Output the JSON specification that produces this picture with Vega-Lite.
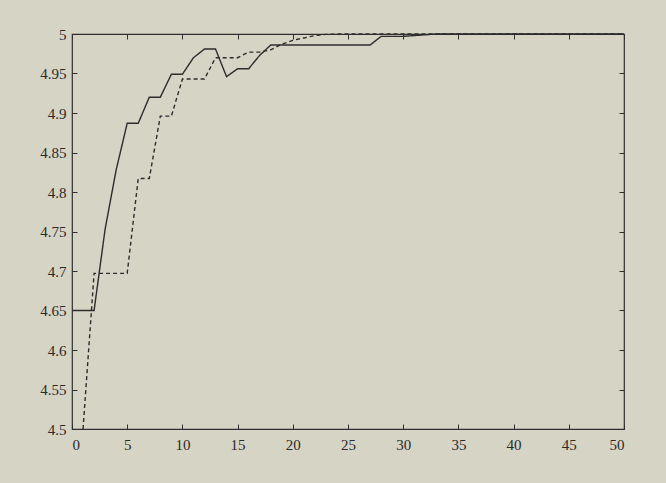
{
  "$schema": "https://vega.github.io/schema/vega-lite/v6.json",
  "width": 552,
  "height": 395,
  "autosize": "none",
  "padding": {"left": 72, "top": 34, "right": 42, "bottom": 54},
  "background": "#d6d4c5",
  "config": {
    "view": {"stroke": "#2e2e2e", "strokeWidth": 1.2},
    "axis": {
      "domain": false,
      "grid": false,
      "tickSize": -5,
      "tickColor": "#2e2e2e",
      "tickWidth": 1,
      "labelFont": "Liberation Serif",
      "labelFontSize": 15,
      "labelColor": "#2a2a2a",
      "labelPadding": 11,
      "format": "~g",
      "title": null
    }
  },
  "data": {
    "values": [
      {"x": 0, "y": 4.65, "s": "A"},
      {"x": 1, "y": 4.65, "s": "A"},
      {"x": 2, "y": 4.65, "s": "A"},
      {"x": 3, "y": 4.753, "s": "A"},
      {"x": 4, "y": 4.828, "s": "A"},
      {"x": 5, "y": 4.887, "s": "A"},
      {"x": 6, "y": 4.887, "s": "A"},
      {"x": 7, "y": 4.92, "s": "A"},
      {"x": 8, "y": 4.92, "s": "A"},
      {"x": 9, "y": 4.949, "s": "A"},
      {"x": 10, "y": 4.949, "s": "A"},
      {"x": 11, "y": 4.97, "s": "A"},
      {"x": 12, "y": 4.981, "s": "A"},
      {"x": 13, "y": 4.981, "s": "A"},
      {"x": 14, "y": 4.946, "s": "A"},
      {"x": 15, "y": 4.956, "s": "A"},
      {"x": 16, "y": 4.956, "s": "A"},
      {"x": 17, "y": 4.973, "s": "A"},
      {"x": 18, "y": 4.986, "s": "A"},
      {"x": 19, "y": 4.986, "s": "A"},
      {"x": 20, "y": 4.986, "s": "A"},
      {"x": 21, "y": 4.986, "s": "A"},
      {"x": 22, "y": 4.986, "s": "A"},
      {"x": 23, "y": 4.986, "s": "A"},
      {"x": 24, "y": 4.986, "s": "A"},
      {"x": 25, "y": 4.986, "s": "A"},
      {"x": 26, "y": 4.986, "s": "A"},
      {"x": 27, "y": 4.986, "s": "A"},
      {"x": 28, "y": 4.997, "s": "A"},
      {"x": 29, "y": 4.997, "s": "A"},
      {"x": 30, "y": 4.997, "s": "A"},
      {"x": 31, "y": 4.998, "s": "A"},
      {"x": 32, "y": 4.999, "s": "A"},
      {"x": 33, "y": 5, "s": "A"},
      {"x": 34, "y": 5, "s": "A"},
      {"x": 35, "y": 5, "s": "A"},
      {"x": 40, "y": 5, "s": "A"},
      {"x": 45, "y": 5, "s": "A"},
      {"x": 50, "y": 5, "s": "A"},
      {"x": 1, "y": 4.5, "s": "B"},
      {"x": 2, "y": 4.697, "s": "B"},
      {"x": 3, "y": 4.697, "s": "B"},
      {"x": 4, "y": 4.697, "s": "B"},
      {"x": 5, "y": 4.697, "s": "B"},
      {"x": 6, "y": 4.817, "s": "B"},
      {"x": 7, "y": 4.817, "s": "B"},
      {"x": 8, "y": 4.896, "s": "B"},
      {"x": 9, "y": 4.896, "s": "B"},
      {"x": 10, "y": 4.943, "s": "B"},
      {"x": 11, "y": 4.943, "s": "B"},
      {"x": 12, "y": 4.943, "s": "B"},
      {"x": 13, "y": 4.97, "s": "B"},
      {"x": 14, "y": 4.97, "s": "B"},
      {"x": 15, "y": 4.97, "s": "B"},
      {"x": 16, "y": 4.977, "s": "B"},
      {"x": 17, "y": 4.977, "s": "B"},
      {"x": 18, "y": 4.98, "s": "B"},
      {"x": 19, "y": 4.987, "s": "B"},
      {"x": 20, "y": 4.992, "s": "B"},
      {"x": 21, "y": 4.995, "s": "B"},
      {"x": 22, "y": 4.998, "s": "B"},
      {"x": 23, "y": 4.9995, "s": "B"},
      {"x": 24, "y": 5, "s": "B"},
      {"x": 30, "y": 5, "s": "B"},
      {"x": 40, "y": 5, "s": "B"},
      {"x": 50, "y": 5, "s": "B"}
    ]
  },
  "layer": [
    {
      "mark": {"type": "line", "strokeWidth": 1.4, "color": "#2c2c2c"},
      "encoding": {
        "x": {"field": "x", "type": "quantitative", "scale": {"domain": [0, 50], "nice": false},
              "axis": {"orient": "bottom", "labelPadding": 13, "values": [0, 5, 10, 15, 20, 25, 30, 35, 40, 45, 50]}},
        "y": {"field": "y", "type": "quantitative", "scale": {"domain": [4.5, 5], "nice": false, "zero": false},
              "axis": {"orient": "left", "values": [4.5, 4.55, 4.6, 4.65, 4.7, 4.75, 4.8, 4.85, 4.9, 4.95, 5]}},
        "strokeDash": {"field": "s", "type": "nominal", "scale": {"domain": ["A", "B"], "range": [[1, 0], [4, 3]]}, "legend": null}
      }
    },
    {
      "mark": {"type": "line", "opacity": 0},
      "encoding": {
        "x": {"field": "x", "type": "quantitative", "scale": {"domain": [0, 50], "nice": false},
              "axis": {"orient": "top", "labels": false, "values": [0, 5, 10, 15, 20, 25, 30, 35, 40, 45, 50]}},
        "y": {"field": "y", "type": "quantitative", "scale": {"domain": [4.5, 5], "nice": false, "zero": false},
              "axis": {"orient": "right", "labels": false, "values": [4.5, 4.55, 4.6, 4.65, 4.7, 4.75, 4.8, 4.85, 4.9, 4.95, 5]}},
        "detail": {"field": "s", "type": "nominal"}
      }
    }
  ],
  "resolve": {"axis": {"x": "independent", "y": "independent"}}
}
